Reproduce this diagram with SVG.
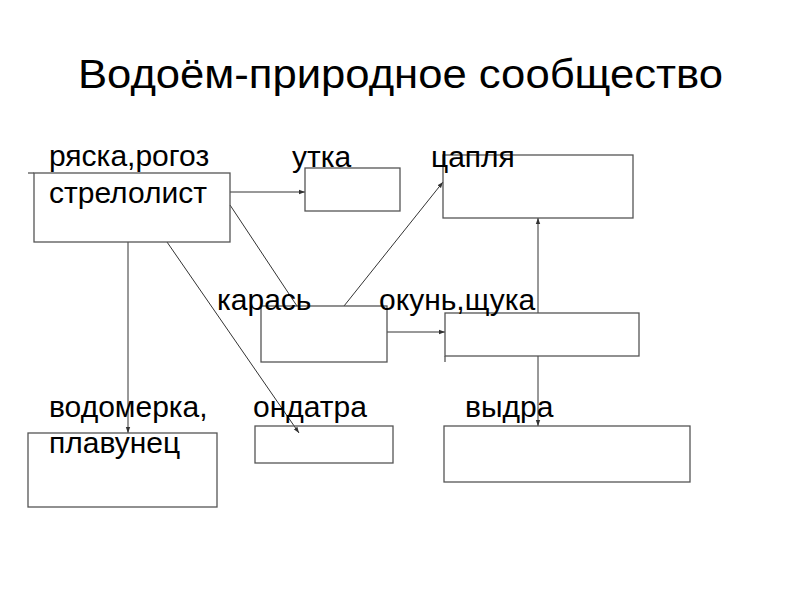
<svg xmlns="http://www.w3.org/2000/svg" width="800" height="600" viewBox="0 0 800 600">
<defs>
<style>
text{font-family:"Liberation Sans",Arial,sans-serif;fill:#000}
.t{font-size:40px}
.l{font-size:30px}
.box{fill:none;stroke:#555;stroke-width:1.3}
.c{fill:none;stroke:#333;stroke-width:1}
</style>
<marker id="ah" markerWidth="6" markerHeight="6" refX="6" refY="3" orient="auto" markerUnits="userSpaceOnUse"><path d="M0,0.8 L6,3 L0,5.2 z" fill="#333"/></marker>
</defs>
<rect width="800" height="600" fill="#fff"/>
<text class="t" x="78" y="88" textLength="645" lengthAdjust="spacingAndGlyphs">Водоём-природное сообщество</text>
<g id="connectors">
<line class="c" x1="230" y1="192" x2="305" y2="192" marker-end="url(#ah)"/>
<line class="c" x1="230" y1="205" x2="297" y2="306"/>
<line class="c" x1="344" y1="306" x2="443" y2="182" marker-end="url(#ah)"/>
<line class="c" x1="128" y1="242" x2="128" y2="433" marker-end="url(#ah)"/>
<line class="c" x1="167" y1="242" x2="299" y2="433" marker-end="url(#ah)"/>
<line class="c" x1="387" y1="332" x2="445" y2="332" marker-end="url(#ah)"/>
<line class="c" x1="538" y1="313" x2="538" y2="218" marker-end="url(#ah)"/>
<line class="c" x1="538" y1="356" x2="538" y2="426" marker-end="url(#ah)"/>
</g>
<g id="node-strelolist">
<rect class="box" x="34" y="173" width="196" height="69"/>
<line class="box" x1="28" y1="173" x2="34" y2="173"/>
<text class="l" x="49" y="166">ряска,рогоз</text>
<text class="l" x="49" y="203">стрелолист</text>
</g>
<g id="node-utka">
<rect class="box" x="305" y="168" width="95" height="43"/>
<text class="l" x="292" y="167">утка</text>
</g>
<g id="node-caplya">
<rect class="box" x="443" y="155" width="190" height="63"/>
<text class="l" x="431" y="167">цапля</text>
</g>
<g id="node-karas">
<rect class="box" x="261" y="306" width="126" height="56"/>
<text class="l" x="217" y="310">карась</text>
</g>
<g id="node-okun">
<rect class="box" x="445" y="313" width="194" height="43"/>
<line class="box" x1="445" y1="356" x2="445" y2="362"/>
<text class="l" x="379" y="310">окунь,щука</text>
</g>
<g id="node-vodomerka">
<rect class="box" x="28" y="433" width="189" height="74"/>
<text class="l" x="49" y="417">водомерка,</text>
<text class="l" x="49" y="453">плавунец</text>
</g>
<g id="node-ondatra">
<rect class="box" x="255" y="426" width="138" height="37"/>
<text class="l" x="253" y="417">ондатра</text>
</g>
<g id="node-vydra">
<rect class="box" x="444" y="426" width="246" height="56"/>
<text class="l" x="465" y="417">выдра</text>
</g>
</svg>
